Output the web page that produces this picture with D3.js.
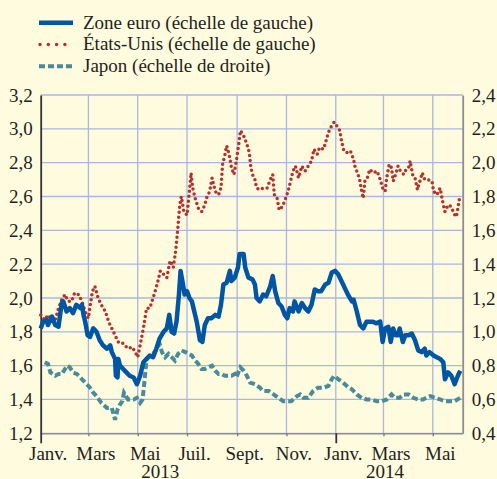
<!DOCTYPE html>
<html>
<head>
<meta charset="utf-8">
<style>
    body { margin: 0; background: #fffbdf; }
    svg { display: block; }
    text { font-family: "Liberation Serif", "Times New Roman", serif; fill: #231f20; }
</style>
</head>
<body>
<div id="chart"></div>

<script src="https://cdn.jsdelivr.net/npm/d3@7"></script>
<script>
    // Rendements souverains, janv. 2013 - juin 2014
    // series are [days since 1 Jan 2013, value in %]

    var monthNames = ["Janv.", "Févr.", "Mars", "Avr.", "Mai", "Juin",
        "Juil.", "Août", "Sept.", "Oct.", "Nov.", "Déc."];
    var yearLabels = ["2013", "2014"];
    var leftTicks = [1.2, 1.4, 1.6, 1.8, 2.0, 2.2, 2.4, 2.6, 2.8, 3.0, 3.2];
    var rightTicks = [0.4, 0.6, 0.8, 1.0, 1.2, 1.4, 1.6, 1.8, 2.0, 2.2, 2.4];
    var legendLabels = ["Zone euro (échelle de gauche)",
        "États-Unis (échelle de gauche)",
        "Japon (échelle de droite)"];

    var zoneEuro = [
        [0, 1.82], [3, 1.86], [7, 1.87], [9, 1.84], [14, 1.89], [18, 1.84], [22, 1.83], [24, 1.90],
        [26, 1.97], [28, 1.98], [32, 1.92], [36, 1.94], [40, 1.91], [44, 1.96], [49, 1.94], [51, 1.96],
        [53, 1.90], [55, 1.86], [58, 1.78], [61, 1.77], [65, 1.82], [69, 1.80], [73, 1.75], [77, 1.72],
        [82, 1.70], [86, 1.72], [88, 1.68], [92, 1.64], [93, 1.54], [95, 1.53], [96, 1.64], [98, 1.60],
        [102, 1.58], [106, 1.56], [110, 1.54], [115, 1.53], [119, 1.49], [123, 1.54], [127, 1.62], [131, 1.64],
        [135, 1.66], [139, 1.65], [143, 1.70], [147, 1.76], [152, 1.80], [156, 1.82], [159, 1.90], [162, 1.80],
        [165, 1.79], [168, 1.86], [171, 2.02], [173, 2.16], [176, 2.08], [178, 2.02], [181, 2.04], [184, 2.00],
        [187, 1.98], [189, 1.94], [193, 1.86], [197, 1.75], [200, 1.74], [203, 1.84], [207, 1.88], [211, 1.88],
        [216, 1.90], [220, 1.89], [223, 1.96], [226, 2.08], [230, 2.09], [234, 2.16], [236, 2.10], [240, 2.12],
        [244, 2.18], [246, 2.26], [251, 2.26], [253, 2.18], [257, 2.12], [262, 2.11], [265, 2.08], [267, 2.00],
        [271, 1.98], [275, 2.02], [279, 2.01], [284, 2.07], [287, 2.13], [290, 2.04], [294, 1.97], [298, 1.95],
        [302, 1.90], [305, 1.88], [308, 1.94], [312, 1.92], [314, 1.98], [319, 1.92], [323, 1.97], [327, 1.94],
        [331, 1.92], [335, 1.96], [339, 2.05], [343, 2.04], [347, 2.04], [352, 2.08], [356, 2.09], [360, 2.15],
        [364, 2.16], [368, 2.14], [372, 2.10], [376, 2.06], [380, 2.02], [385, 1.98], [387, 1.99], [391, 1.92],
        [395, 1.84], [399, 1.82], [403, 1.86], [407, 1.86], [411, 1.86], [415, 1.85], [420, 1.86], [423, 1.74],
        [426, 1.82], [430, 1.83], [433, 1.74], [436, 1.82], [439, 1.78], [442, 1.78], [444, 1.82], [448, 1.74],
        [451, 1.78], [455, 1.78], [459, 1.79], [463, 1.75], [467, 1.69], [471, 1.68], [475, 1.70], [477, 1.66],
        [481, 1.68], [486, 1.66], [490, 1.65], [494, 1.64], [498, 1.62], [500, 1.52], [504, 1.56], [508, 1.54],
        [512, 1.49], [516, 1.54], [519, 1.57]
    ];

    var etatsUnis = [
        [0, 1.90], [5, 1.87], [9, 1.90], [14, 1.86], [18, 1.87], [22, 1.94], [26, 1.99], [30, 2.02],
        [34, 1.98], [38, 1.98], [42, 2.03], [47, 2.02], [51, 1.98], [55, 1.92], [59, 1.88], [62, 1.98],
        [64, 2.04], [67, 2.07], [71, 2.00], [75, 1.96], [80, 1.92], [84, 1.86], [88, 1.82], [92, 1.78],
        [96, 1.74], [100, 1.74], [104, 1.72], [108, 1.70], [113, 1.71], [117, 1.68], [120, 1.65], [123, 1.72],
        [127, 1.82], [131, 1.94], [135, 1.94], [139, 2.00], [144, 2.08], [148, 2.16], [152, 2.14], [156, 2.12],
        [160, 2.22], [164, 2.18], [167, 2.28], [169, 2.38], [171, 2.49], [172, 2.55], [174, 2.60], [177, 2.51],
        [181, 2.49], [184, 2.63], [186, 2.74], [188, 2.65], [191, 2.59], [195, 2.53], [199, 2.51], [203, 2.55],
        [205, 2.59], [209, 2.63], [212, 2.71], [216, 2.63], [220, 2.61], [223, 2.65], [225, 2.79], [228, 2.85],
        [230, 2.90], [233, 2.85], [236, 2.77], [239, 2.73], [242, 2.81], [245, 2.91], [247, 2.99], [251, 2.96],
        [255, 2.91], [258, 2.86], [260, 2.77], [262, 2.73], [265, 2.70], [267, 2.65], [271, 2.64], [275, 2.65],
        [280, 2.65], [284, 2.70], [287, 2.73], [289, 2.61], [292, 2.60], [295, 2.52], [299, 2.54], [303, 2.59],
        [306, 2.63], [309, 2.69], [312, 2.75], [315, 2.78], [319, 2.71], [323, 2.78], [327, 2.75], [331, 2.78],
        [335, 2.81], [338, 2.88], [342, 2.85], [345, 2.89], [350, 2.88], [353, 2.93], [356, 2.98], [360, 3.02],
        [363, 3.04], [366, 3.02], [370, 2.99], [372, 2.93], [375, 2.87], [379, 2.86], [383, 2.87], [387, 2.82],
        [389, 2.77], [392, 2.74], [395, 2.69], [397, 2.63], [399, 2.59], [401, 2.69], [404, 2.71], [407, 2.76],
        [411, 2.74], [416, 2.75], [420, 2.70], [423, 2.65], [426, 2.63], [428, 2.71], [431, 2.79], [434, 2.77],
        [436, 2.69], [439, 2.73], [442, 2.78], [445, 2.75], [449, 2.73], [452, 2.76], [455, 2.77], [457, 2.81],
        [460, 2.73], [463, 2.71], [466, 2.64], [469, 2.69], [472, 2.74], [475, 2.70], [479, 2.70], [484, 2.69],
        [486, 2.63], [490, 2.61], [494, 2.65], [498, 2.55], [500, 2.51], [504, 2.55], [508, 2.54], [511, 2.50],
        [514, 2.48], [515, 2.50], [518, 2.59], [519, 2.59]
    ];

    var japon = [
        [5, 0.82], [9, 0.81], [12, 0.76], [18, 0.74], [22, 0.75], [26, 0.75], [30, 0.78], [33, 0.80],
        [36, 0.79], [40, 0.76], [45, 0.75], [49, 0.73], [53, 0.71], [57, 0.69], [61, 0.67], [65, 0.64],
        [69, 0.62], [75, 0.58], [82, 0.55], [88, 0.55], [92, 0.48], [95, 0.54], [98, 0.57], [101, 0.59],
        [103, 0.64], [108, 0.60], [115, 0.60], [119, 0.61], [123, 0.58], [126, 0.60], [128, 0.69], [131, 0.84],
        [135, 0.86], [139, 0.87], [144, 0.90], [147, 0.93], [150, 0.88], [154, 0.85], [158, 0.87], [162, 0.85],
        [166, 0.83], [170, 0.87], [174, 0.89], [179, 0.88], [183, 0.87], [187, 0.86], [191, 0.83], [195, 0.81],
        [199, 0.78], [203, 0.78], [207, 0.79], [212, 0.80], [216, 0.77], [220, 0.75], [224, 0.75], [228, 0.74],
        [232, 0.74], [236, 0.74], [240, 0.75], [242, 0.73], [247, 0.79], [251, 0.77], [255, 0.74], [259, 0.70],
        [265, 0.69], [271, 0.67], [275, 0.65], [282, 0.65], [288, 0.63], [294, 0.61], [300, 0.59], [306, 0.59],
        [310, 0.59], [317, 0.62], [321, 0.63], [325, 0.61], [331, 0.61], [337, 0.65], [343, 0.67], [350, 0.67],
        [356, 0.68], [360, 0.72], [363, 0.74], [368, 0.72], [374, 0.70], [381, 0.67], [385, 0.66], [391, 0.63],
        [397, 0.61], [403, 0.60], [409, 0.60], [416, 0.59], [422, 0.59], [428, 0.60], [434, 0.63], [438, 0.61],
        [444, 0.61], [449, 0.63], [455, 0.63], [461, 0.61], [467, 0.60], [473, 0.60], [477, 0.61], [482, 0.62],
        [488, 0.61], [494, 0.60], [500, 0.59], [506, 0.59], [512, 0.59], [519, 0.61]
    ];

    var width = 497,
        height = 479;

    var plotLeft = 40.7,
        plotRight = 462.7,
        plotTop = 95,
        plotBottom = 433.3;

    var start = new Date(2013, 0, 1);
    var toDate = function(d) { return d3.timeDay.offset(start, d); };
    var formatComma = function(v) { return d3.format(".1f")(v).replace(".", ","); };

    var colors = ["#0055a5", "#b3322d", "#4a8b9b"];

    var svg = d3.select("#chart").append("svg")
        .attr("width", width)
        .attr("height", height);

    svg.append("rect")
        .attr("width", width)
        .attr("height", height)
        .attr("fill", "#fffbdf");

    var x = d3.scaleTime()
        .domain([start, new Date(2014, 5, 7)])
        .range([plotLeft, plotRight]);

    var yLeft = d3.scaleLinear()
        .domain([1.2, 3.2])
        .range([plotBottom, plotTop]);

    var yRight = d3.scaleLinear()
        .domain([0.4, 2.4])
        .range([plotBottom, plotTop]);

    var monthTicks = x.ticks(d3.timeMonth.every(2));

    // grid
    var grid = svg.append("g").attr("class", "grid");
    grid.selectAll("line.h")
        .data(leftTicks)
        .enter().append("line")
        .attr("class", "h")
        .attr("x1", plotLeft).attr("x2", plotRight)
        .attr("y1", function(d) { return yLeft(d); })
        .attr("y2", function(d) { return yLeft(d); })
        .attr("stroke", "#a9b7e2")
        .attr("stroke-width", 1.3);

    grid.selectAll("line.v")
        .data(monthTicks.slice(1))
        .enter().append("line")
        .attr("class", "v")
        .attr("x1", function(d) { return x(d); })
        .attr("x2", function(d) { return x(d); })
        .attr("y1", plotTop).attr("y2", plotBottom)
        .attr("stroke", "#a9b7e2")
        .attr("stroke-width", 1.3);

    // axes
    var xAxis = svg.append("g")
        .attr("transform", "translate(0," + plotBottom + ")")
        .call(d3.axisBottom(x)
            .tickValues(monthTicks)
            .tickSize(3)
            .tickSizeOuter(0)
            .tickPadding(10)
            .tickFormat(function(d) { return monthNames[d.getMonth()]; }));

    xAxis.select(".domain").attr("stroke", "#8e8e8e").attr("stroke-width", 1.6);
    xAxis.selectAll(".tick line")
        .attr("y2", function(d) { return d.getMonth() === 0 ? 10 : 3; })
        .attr("stroke", function(d) { return d.getMonth() === 0 ? "#333" : "#777"; })
        .attr("stroke-width", function(d) { return d.getMonth() === 0 ? 1.8 : 1.3; });
    xAxis.selectAll(".tick text")
        .attr("dx", 7);

    svg.selectAll("text.year")
        .data(yearLabels)
        .enter().append("text")
        .attr("class", "year")
        .attr("x", function(d, i) { return x(i === 0 ? new Date(2013, 4, 29) : new Date(2014, 2, 3)); })
        .attr("y", 478)
        .attr("text-anchor", "middle")
        .attr("font-size", 19)
        .text(function(d) { return d; });

    var leftAxis = svg.append("g")
        .attr("transform", "translate(" + plotLeft + ",0)")
        .call(d3.axisLeft(yLeft)
            .tickValues(leftTicks)
            .tickSize(0)
            .tickPadding(8)
            .tickFormat(formatComma));
    leftAxis.select(".domain").attr("stroke", "#333").attr("stroke-width", 1.8);

    var rightAxis = svg.append("g")
        .attr("transform", "translate(" + plotRight + ",0)")
        .call(d3.axisRight(yRight)
            .tickValues(rightTicks)
            .tickSize(0)
            .tickPadding(9)
            .tickFormat(formatComma));
    rightAxis.select(".domain").attr("stroke", "#8e8e8e").attr("stroke-width", 1.8);

    svg.selectAll(".tick text")
        .attr("font-size", 19)
        .attr("font-family", "Liberation Serif")
        .attr("fill", "#231f20");

    // lines
    var lineLeft = d3.line()
        .x(function(d) { return x(toDate(d[0])); })
        .y(function(d) { return yLeft(d[1]); });

    var lineRight = d3.line()
        .x(function(d) { return x(toDate(d[0])); })
        .y(function(d) { return yRight(d[1]); });

    svg.append("path")
        .datum(japon)
        .attr("d", lineRight)
        .attr("fill", "none")
        .attr("stroke", colors[2])
        .attr("stroke-width", 4)
        .attr("stroke-dasharray", "6 3");

    svg.append("path")
        .datum(etatsUnis)
        .attr("d", lineLeft)
        .attr("fill", "none")
        .attr("stroke", colors[1])
        .attr("stroke-width", 3.5)
        .attr("stroke-linecap", "round")
        .attr("stroke-dasharray", "0 5");

    svg.append("path")
        .datum(zoneEuro)
        .attr("d", lineLeft)
        .attr("fill", "none")
        .attr("stroke", colors[0])
        .attr("stroke-width", 4.5)
        .attr("stroke-linejoin", "round");

    // legend
    var legend = svg.append("g").attr("class", "legend");
    var legendRows = legend.selectAll("g")
        .data(legendLabels)
        .enter().append("g")
        .attr("transform", function(d, i) { return "translate(0," + (22.7 + i * 21.8) + ")"; });

    legendRows.append("line")
        .attr("x1", function(d, i) { return i === 1 ? 40 : 39; })
        .attr("x2", 73)
        .attr("stroke", function(d, i) { return colors[i]; })
        .attr("stroke-width", function(d, i) { return i === 0 ? 4.5 : i === 1 ? 3.5 : 4; })
        .attr("stroke-linecap", function(d, i) { return i === 1 ? "round" : "butt"; })
        .attr("stroke-dasharray", function(d, i) { return i === 0 ? null : i === 1 ? "0 8.3" : "6 3"; });

    legendRows.append("text")
        .attr("x", 83)
        .attr("y", 5.8)
        .attr("font-size", 19)
        .text(function(d) { return d; });
</script>
</body>
</html>
